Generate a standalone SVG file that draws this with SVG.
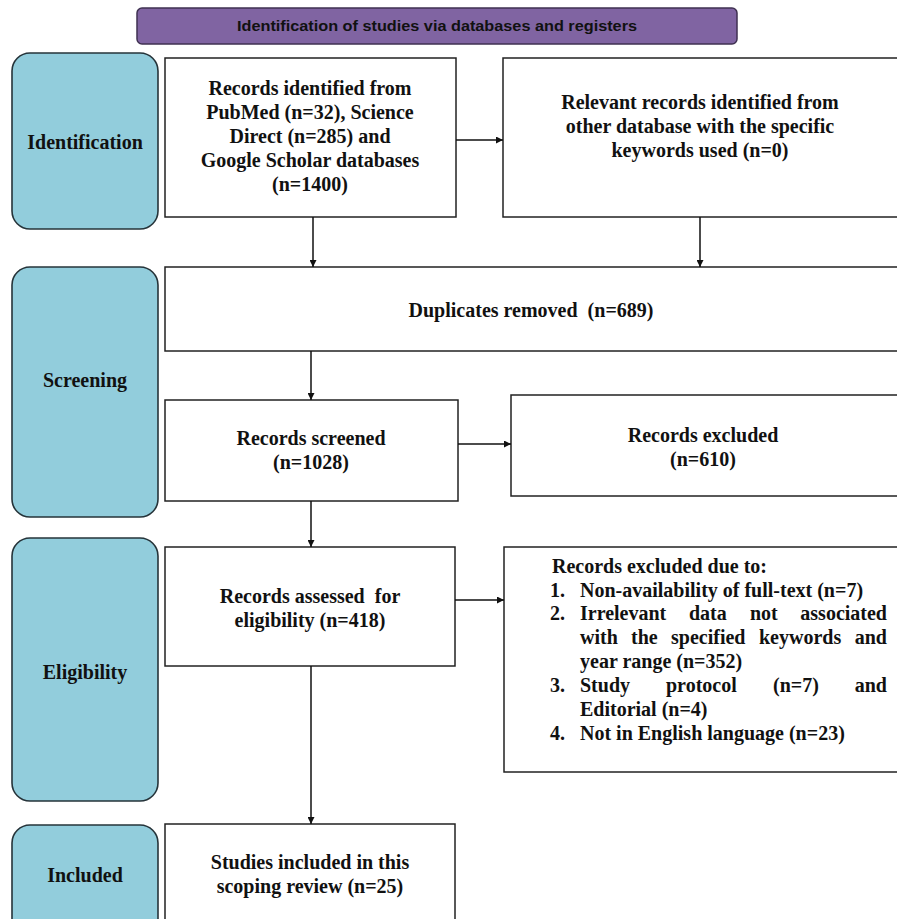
<svg xmlns="http://www.w3.org/2000/svg" width="897" height="919" viewBox="0 0 897 919">
<style>
.box{fill:#fff;stroke:#222;stroke-width:1.5}
.side{fill:#92cddc;stroke:#26343a;stroke-width:1.6}
.t{font-family:"Liberation Serif","Times New Roman",serif;font-weight:bold;font-size:20px;fill:#111}
.c{text-anchor:middle}
.e{text-anchor:end}
.title{font-family:"Liberation Sans",Arial,sans-serif;font-weight:bold;font-size:15px;fill:#111;text-anchor:middle}
.conn line{stroke:#111;stroke-width:1.5;marker-end:url(#ah)}
</style>
<defs>
<marker id="ah" viewBox="0 0 10 10" refX="10" refY="5" markerWidth="7" markerHeight="7" markerUnits="userSpaceOnUse" orient="auto">
<path d="M0,0 L10,5 L0,10 z" fill="#111"/>
</marker>
</defs>
<rect width="897" height="919" fill="#fff"/>

<g id="title">
<rect x="137" y="8" width="600" height="36" rx="5" fill="#8064a2" stroke="#3f3151" stroke-width="1.5"/>
<text class="title" x="437" y="31" textLength="400" lengthAdjust="spacingAndGlyphs">Identification of studies via databases and registers</text>
</g>

<g id="stage-identification">
<rect class="side" x="12" y="53" width="146" height="176" rx="18"/>
<text class="t c" x="85" y="149">Identification</text>
</g>
<g id="stage-screening">
<rect class="side" x="12" y="267" width="146" height="250" rx="18"/>
<text class="t c" x="85" y="387">Screening</text>
</g>
<g id="stage-eligibility">
<rect class="side" x="12" y="538" width="146" height="263" rx="18"/>
<text class="t c" x="85" y="679">Eligibility</text>
</g>
<g id="stage-included">
<rect class="side" x="12" y="825" width="146" height="120" rx="18"/>
<text class="t c" x="85" y="882">Included</text>
</g>

<g id="records-identified">
<rect class="box" x="165" y="58" width="291" height="159"/>
<text class="t c" x="310" y="95">Records identified from</text>
<text class="t c" x="310" y="119">PubMed (n=32), Science</text>
<text class="t c" x="310" y="143">Direct (n=285) and</text>
<text class="t c" x="310" y="167">Google Scholar databases</text>
<text class="t c" x="310" y="191">(n=1400)</text>
</g>

<g id="other-records">
<rect class="box" x="503" y="58" width="396" height="159"/>
<text class="t c" x="700" y="109">Relevant records identified from</text>
<text class="t c" x="700" y="133">other database with the specific</text>
<text class="t c" x="700" y="157">keywords used (n=0)</text>
</g>

<g id="duplicates">
<rect class="box" x="165" y="267" width="734" height="84"/>
<text class="t c" x="531" y="317" xml:space="preserve">Duplicates removed  (n=689)</text>
</g>

<g id="screened">
<rect class="box" x="165" y="400" width="293" height="101"/>
<text class="t c" x="311" y="445">Records screened</text>
<text class="t c" x="311" y="469">(n=1028)</text>
</g>

<g id="excluded">
<rect class="box" x="511" y="395" width="388" height="101"/>
<text class="t c" x="703" y="442">Records excluded</text>
<text class="t c" x="703" y="466">(n=610)</text>
</g>

<g id="assessed">
<rect class="box" x="165" y="547" width="290" height="119"/>
<text class="t c" x="310" y="603" xml:space="preserve">Records assessed  for</text>
<text class="t c" x="310" y="627">eligibility (n=418)</text>
</g>

<g id="excluded-reasons">
<rect class="box" x="504" y="547" width="395" height="225"/>
<text class="t" x="552" y="573">Records excluded due to:</text>
<text class="t" x="550" y="597">1.</text>
<text class="t" x="580" y="597">Non-availability of full-text (n=7)</text>
<text class="t" x="550" y="620">2.</text>
<text class="t" x="580" y="620">Irrelevant</text>
<text class="t" x="689" y="620">data</text>
<text class="t" x="750" y="620">not</text>
<text class="t e" x="887" y="620">associated</text>
<text class="t" x="580" y="644">with</text>
<text class="t" x="631" y="644">the</text>
<text class="t" x="671" y="644">specified</text>
<text class="t" x="759" y="644">keywords</text>
<text class="t e" x="887" y="644">and</text>
<text class="t" x="580" y="668">year range (n=352)</text>
<text class="t" x="550" y="692">3.</text>
<text class="t" x="580" y="692">Study</text>
<text class="t" x="666" y="692">protocol</text>
<text class="t" x="773" y="692">(n=7)</text>
<text class="t e" x="887" y="692">and</text>
<text class="t" x="580" y="716">Editorial (n=4)</text>
<text class="t" x="550" y="740">4.</text>
<text class="t" x="580" y="740">Not in English language (n=23)</text>
</g>

<g id="included">
<rect class="box" x="165" y="824" width="290" height="120"/>
<text class="t c" x="310" y="869">Studies included in this</text>
<text class="t c" x="310" y="893">scoping review (n=25)</text>
</g>

<g id="connectors" class="conn">
<line x1="456" y1="140" x2="503" y2="140"/>
<line x1="313" y1="217" x2="313" y2="267"/>
<line x1="700" y1="217" x2="700" y2="267"/>
<line x1="311" y1="351" x2="311" y2="400"/>
<line x1="458" y1="444" x2="511" y2="444"/>
<line x1="311" y1="501" x2="311" y2="547"/>
<line x1="455" y1="600" x2="504" y2="600"/>
<line x1="311" y1="666" x2="311" y2="824"/>
</g>
</svg>
